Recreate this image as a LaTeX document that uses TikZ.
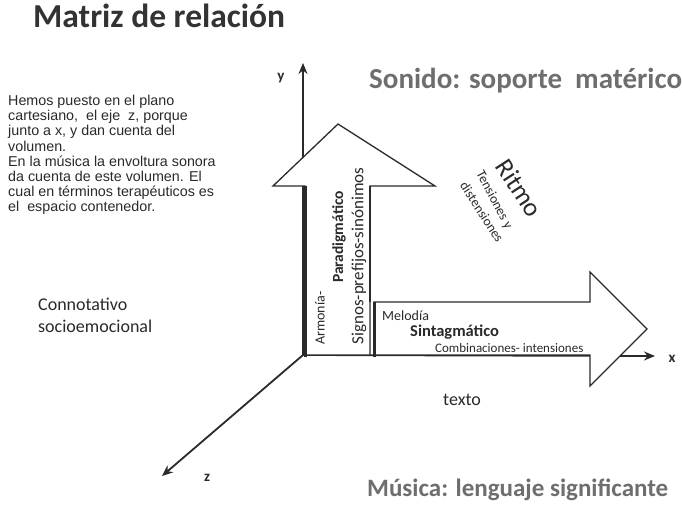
\documentclass[tikz,border=0pt]{standalone}
\usepackage{fontspec}
\setmainfont{Carlito}
\newfontfamily\arialf{Liberation Sans}
\usetikzlibrary{arrows.meta}
\definecolor{ink}{HTML}{2A2A2A}
\definecolor{headgray}{HTML}{6E6E6E}
\definecolor{titlegray}{HTML}{333333}
\begin{document}
\begin{tikzpicture}[x=1pt,y=-1pt,
  axis/.style={draw=ink,line width=1.8pt,-{Stealth[length=11pt,width=9pt]}},
  bigarrow/.style={draw=ink,line width=1.3pt,fill=white,line join=miter},
  shadowedge/.style={draw=ink,line width=3pt},
  lbl/.style={inner sep=0pt,text=ink},
  fs/.style={font=\fontsize{#1}{#1}\selectfont},
  fsb/.style={font=\fontsize{#1}{#1}\selectfont\bfseries}]
\useasboundingbox (0,0) rectangle (682,511);
\fill[white] (0,0) rectangle (682,511);

% axes
\coordinate (O) at (303,355);
\coordinate (Xe) at (655,356);
\coordinate (Ye) at (303,63);
\coordinate (Ze) at (162,476);
\draw[axis] (O) -- (Xe);
\draw[axis] (O) -- (Ye);
\draw[axis] (O) -- (Ze);

% vertical (paradigmatic) arrow
\draw[bigarrow] (305,355) -- (305,186) -- (273,186) -- (338,124) -- (435,186)
  -- (370,186) -- (370,355) -- cycle;
% horizontal (syntagmatic) arrow
\draw[bigarrow] (374,355) -- (374,302) -- (590,302) -- (590,272) -- (647,329)
  -- (590,386) -- (590,355) -- cycle;
\draw[shadowedge] (305,186) -- (305,356.5);
\draw[shadowedge] (374,302) -- (374,356.5);
\draw[ink,line width=2pt] (370,186) -- (370,302);
\draw[ink,line width=1.6pt] (303,355.5) -- (590,355.5);

% axis labels
\node[lbl,fsb=15,anchor=center] (ylab) at (281,78) {y};
\node[lbl,fsb=15,anchor=center] (xlab) at (672,359) {x};
\node[lbl,fsb=15,anchor=center] (zlab) at (207,478) {z};

% titles
\node[lbl,fsb=33.5,text=titlegray,anchor=base west] (title) at (33,28) {Matriz de relación};
\node[lbl,fsb=29,text=headgray,anchor=base west] (sonido) at (369,88) {Sonido: soporte\ \ matérico};
\node[lbl,fsb=25,text=headgray,anchor=base west] (musica) at (367,496) {Música: lenguaje significante};

% paragraph
\node[lbl,anchor=north west,align=left,font=\arialf\fontsize{14.3}{15.2}\selectfont] (para) at (8,95)
 {Hemos puesto en el plano\\cartesiano,\ \ el eje\ \ z, porque\\junto a x, y dan cuenta del\\volumen.\\En la música la envoltura sonora\\da cuenta de este volumen. El\\cual en términos terapéuticos es\\el\ \ espacio contenedor.};

% side labels
\node[lbl,fs=18,anchor=base west] (conno) at (38,310) {Connotativo};
\node[lbl,fs=18,anchor=base west] (socio) at (38,332) {socioemocional};
\node[lbl,fs=18,anchor=base west] (texto) at (443,405) {texto};

% inside vertical arrow
\node[lbl,fs=14,rotate=90,anchor=center] (armonia) at (320,318) {Armonía-};
\node[lbl,fsb=15.5,rotate=90,anchor=center] (parad) at (339,237) {Paradigmático};
\node[lbl,fs=17,rotate=90,anchor=center] (signos) at (359,256) {Signos-prefijos-sinónimos};

% inside horizontal arrow
\node[lbl,fs=14,anchor=base west] (melodia) at (382,320) {Melodía};
\node[lbl,fsb=16.5,anchor=base west] (sintag) at (410,336) {Sintagmático};
\node[lbl,fs=13,anchor=base west] (combi) at (435,352) {Combinaciones- intensiones};

% rhythm
\node[lbl,fs=26,rotate=-57,anchor=center] (ritmo) at (519,188) {Ritmo};
\node[lbl,fs=13.5,rotate=-62,anchor=center] (tens) at (494,200) {Tensiones y};
\node[lbl,fs=13.5,rotate=-57,anchor=center] (dist) at (482,212) {distensiones};
\end{tikzpicture}
\end{document}
